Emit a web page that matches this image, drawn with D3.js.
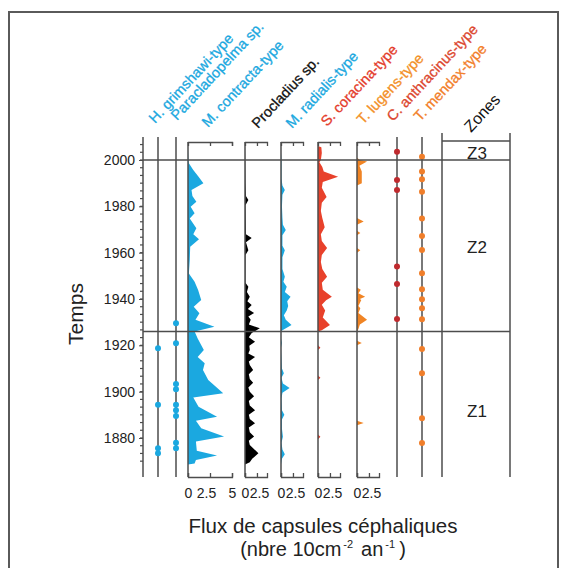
<!DOCTYPE html>
<html>
<head>
<meta charset="utf-8">
<script src="https://cdn.jsdelivr.net/npm/d3@7"></script>
<style>
body { margin: 0; background: #fff; }
svg { display: block; font-family: "Liberation Sans", Arial, sans-serif; }
</style>
</head>
<body>
<svg id="chart" width="570" height="568"></svg>
<script>
// taxa, left to right
var taxa = ["H. grimshawi-type", "Paracladopelma sp.", "M. contracta-type", "Procladius sp.",
            "M. radialis-type", "S. coracina-type", "T. lugens-type", "C. anthracinus-type", "T. mendax-type"];
var yearTicks = [1880, 1900, 1920, 1940, 1960, 1980, 2000];
var zoneBounds = [1926, 2000];
var zoneNames = ["Z1", "Z2", "Z3"];

// presence only (years)
var grimshawi = [1918.7, 1894.3, 1875.6, 1873.4];
var paracladopelma = [1929.5, 1920.9, 1903.3, 1901, 1894.3, 1892, 1889.5, 1878, 1875.6];
var anthracinus = [2003.6, 1991.4, 1987, 1954, 1946.5, 1931.4];
var mendax = [2001.4, 1995, 1991.7, 1986.3, 1974.8, 1967.2, 1961.2, 1951.1, 1944.2, 1939.9, 1936, 1931.3, 1918.4, 1908, 1888.5, 1877.8];

// flux profiles [year, value]
var contracta = [[2004, 0], [2000, 0.05], [1998.6, 0.1], [1995.7, 0.6], [1992.8, 1.2], [1990, 1.75], [1987, 0.4],
  [1984.5, 0.5], [1982, 0.95], [1979.8, 0.3], [1977, 0.75], [1974.8, 0.2], [1970.5, 0.95], [1968, 0.6],
  [1965.8, 1.25], [1962.6, 0.25], [1956.8, 0.2], [1951, 0.1], [1947.5, 0.75], [1943.9, 1.15], [1939.6, 1.5],
  [1936.7, 0.65], [1933.8, 1.3], [1931, 0.85], [1928, 3.0], [1926, 0.75], [1923, 1.1], [1918, 1.8],
  [1915, 1.1], [1912.3, 1.9], [1909.4, 1.7], [1905, 2.3], [1899.3, 4.0], [1897.5, 0.6], [1893.5, 1.2],
  [1889.2, 3.3], [1887.5, 0.9], [1884.2, 1.5], [1880.6, 4.1], [1878.5, 0.9], [1874.5, 1.0], [1872.5, 3.3],
  [1870.5, 0.9], [1869, 0.75], [1868.6, 0]];
var procladius = [[2006, 0], [1990, 0.1], [1984.5, 0.2], [1982.7, 0.7], [1980.5, 0.1], [1968, 0.2], [1966.3, 1.4],
  [1964.5, 0.2], [1961, 0.7], [1959, 0.1], [1947, 0.1], [1945.3, 0.7], [1943, 0.4], [1941, 1.0], [1939, 0.5],
  [1937.4, 1.4], [1935.7, 0.6], [1934, 1.9], [1932.4, 0.7], [1931, 1.2], [1929, 0.8], [1927.4, 3.1],
  [1925.3, 1.4], [1923.5, 0.8], [1921.6, 2.1], [1919.8, 0.9], [1918, 1.0], [1916.5, 0.7], [1915, 2.1],
  [1913, 0.8], [1911.5, 1.0], [1909.4, 1.7], [1907.5, 0.8], [1905.5, 1.0], [1903.8, 1.7], [1901.8, 0.7],
  [1900, 1.0], [1898, 1.9], [1896, 0.8], [1894, 1.0], [1892, 2.1], [1890, 0.8], [1888.2, 1.0], [1886.4, 2.1],
  [1884.5, 0.8], [1882.5, 1.0], [1880.6, 1.9], [1878.8, 0.8], [1877, 1.0], [1873.4, 2.8], [1871, 1.5],
  [1869.5, 1.0], [1868.6, 0]];
var radialis = [[2003, 0], [2000, 0.1], [1992, 0.1], [1989, 0.3], [1987, 0.8], [1985, 0.3], [1980, 0.2],
  [1975, 0.3], [1972, 0.4], [1969.8, 1.0], [1967.5, 0.3], [1963, 0.3], [1961, 0.8], [1958, 0.3], [1953, 0.3],
  [1949.6, 0.8], [1947.5, 0.5], [1945.3, 1.2], [1943, 0.8], [1941, 2.0], [1939, 1.3], [1937, 1.5],
  [1935, 1.2], [1933, 0.6], [1931, 1.0], [1928.8, 2.2], [1926.5, 0.3], [1926, 0], [1923, 0], [1921, 0.2],
  [1919, 0], [1910, 0.2], [1908, 0.6], [1906, 0.1], [1903.5, 0.4], [1901.6, 1.8], [1899.5, 0.3], [1897, 0.1],
  [1892, 0.2], [1890, 0.7], [1888, 0.2], [1884, 0.2], [1880.5, 0.4], [1878, 0.1], [1875, 0.3], [1873, 0.8],
  [1871, 0.2], [1868.6, 0]];
var coracina = [[2006, 0], [2005.5, 0.7], [2003, 0.8], [2000, 0.6], [1999, 0.3], [1997, 0.9], [1995, 1.2],
  [1992.8, 4.2], [1990.5, 1.0], [1988, 0.8], [1984, 1.8], [1981.5, 0.8], [1978, 0.6], [1975, 0.9],
  [1971, 1.4], [1968, 0.6], [1965, 0.8], [1962, 1.9], [1959, 0.8], [1956, 0.6], [1953, 0.9], [1949.6, 1.9],
  [1947, 0.8], [1944, 1.0], [1941, 2.9], [1939.5, 1.7], [1937.5, 0.8], [1935, 1.5], [1932, 1.0],
  [1928.8, 2.5], [1926.5, 0.8], [1926, 0], [1920, 0], [1919, 0.5], [1918, 0], [1907, 0], [1906, 0.5],
  [1905, 0], [1881.5, 0], [1880.5, 0.5], [1879.5, 0]];
var lugens = [[2001, 0], [2000, 0.6], [1999.3, 2.1], [1997.5, 0.5], [1995, 1.0], [1990, 1.0], [1989, 0],
  [1975, 0], [1973.4, 1.4], [1972, 0], [1969.5, 0], [1968.5, 0.7], [1967.5, 0], [1962, 0], [1961, 0.7],
  [1960, 0], [1945, 0], [1944, 0.8], [1942.5, 0.3], [1941, 1.7], [1940, 0.6], [1939.6, 0.9], [1937, 0.3],
  [1936, 0.7], [1934, 0.3], [1931, 2.1], [1929, 0.6], [1927, 0.3], [1926, 0], [1922, 0], [1921, 1.0],
  [1920, 0], [1887.5, 0], [1886.5, 1.4], [1885.5, 0]];

var cyan = "#1ba8e0";
var labelColors = [cyan, cyan, cyan, "#111", cyan, "#e43d2c", "#f39028", "#dc472f", "#f2802b"];

// layout
var colX = [158, 176, 188, 245, 281, 318, 357, 397, 422];
var labelX = [155, 177, 208, 258, 292, 327, 363, 393, 420];
var labelY = [124, 121, 128, 129, 129, 127, 125, 122, 122];
var zoneLeft = 442, zoneRight = 510;
var axisX = 143, topY = 137, axisTopY = 142, bottomY = 477;
var lineColor = "#4d4d4d";

var svg = d3.select("#chart");

svg.append("rect")
  .attr("x", 9).attr("y", 12).attr("width", 549).attr("height", 570)
  .attr("fill", "none").attr("stroke", "#5a5a5a").attr("stroke-width", 2);

var y = d3.scaleLinear().domain([1880, 2000]).range([438, 160]);

// y axis
var yAxis = svg.append("g").attr("transform", "translate(" + axisX + ",0)")
  .call(d3.axisLeft(y).tickValues(yearTicks).tickSize(4).tickPadding(4).tickFormat(d3.format("d")));
yAxis.select(".domain").remove();
yAxis.selectAll("text").attr("font-size", 14).attr("fill", "#222")
  .attr("font-family", "Liberation Sans, Arial, sans-serif");
yAxis.selectAll("line").attr("stroke", lineColor);
var minorYears = d3.range(-3, 40).map(function (k) { return 2000 - k * 20 / 6; })
  .filter(function (v) { return y(v) > topY && y(v) < bottomY; });
svg.append("g").selectAll("line").data(minorYears).enter().append("line")
  .attr("x1", axisX - 3).attr("x2", axisX).attr("y1", function (d) { return y(d); })
  .attr("y2", function (d) { return y(d); }).attr("stroke", lineColor).attr("stroke-width", 1.2);
svg.append("line").attr("x1", axisX).attr("x2", axisX).attr("y1", topY).attr("y2", bottomY)
  .attr("stroke", lineColor).attr("stroke-width", 1.5);

svg.append("text").text("Temps")
  .attr("transform", "translate(83,314) rotate(-90)")
  .attr("text-anchor", "middle").attr("font-size", 21).attr("fill", "#222");

// profile columns
var profiles = [
  { col: 2, data: contracta, max: 5, width: 44, ticks: [2.5, 5], fill: cyan, dx: -4 },
  { col: 3, data: procladius, max: 4.6, width: 22, ticks: [2.5], fill: "#000", dx: 2 },
  { col: 4, data: radialis, max: 4.6, width: 22, ticks: [2.5], fill: cyan, dx: 2 },
  { col: 5, data: coracina, max: 4.6, width: 22, ticks: [2.5], fill: "#e8412b", dx: 2 },
  { col: 6, data: lugens, max: 4.6, width: 22, ticks: [2.5], fill: "#f08424", dx: 2 }
];

profiles.forEach(function (p) {
  var x0 = colX[p.col];
  var x = d3.scaleLinear().domain([0, p.max]).range([x0, x0 + p.width]);
  var area = d3.area().y(function (d) { return y(d[0]); })
    .x0(x(0)).x1(function (d) { return x(d[1]); });
  svg.append("path").datum(p.data).attr("d", area).attr("fill", p.fill);

  var top = svg.append("g").attr("transform", "translate(0," + axisTopY + ")")
    .call(d3.axisTop(x).tickValues(p.ticks).tickSize(-4).tickSizeOuter(-4).tickFormat(""));
  top.selectAll("path,line").attr("stroke", lineColor).attr("stroke-width", 1.3);

  var bot = svg.append("g").attr("transform", "translate(0," + bottomY + ")")
    .call(d3.axisBottom(x).tickValues([0].concat(p.ticks)).tickSize(-4).tickSizeOuter(-4).tickPadding(11)
      .tickFormat(function (d) { return d === 2.5 ? "2.5" : d3.format("d")(d); }));
  bot.selectAll("path,line").attr("stroke", lineColor).attr("stroke-width", 1.3);
  bot.selectAll("text").attr("font-size", 14).attr("fill", "#222")
    .attr("font-family", "Liberation Sans, Arial, sans-serif")
    .attr("dx", function (d) { return d === 2.5 ? p.dx : 0; });
});

// vertical column lines
colX.forEach(function (cx, i) {
  var isProfile = i >= 2 && i <= 6;
  svg.append("line").attr("x1", cx).attr("x2", cx)
    .attr("y1", isProfile ? axisTopY : topY).attr("y2", bottomY)
    .attr("stroke", lineColor).attr("stroke-width", 1.5);
});
[zoneLeft, zoneRight].forEach(function (zx) {
  svg.append("line").attr("x1", zx).attr("x2", zx).attr("y1", 133).attr("y2", bottomY)
    .attr("stroke", lineColor).attr("stroke-width", 1.5);
});

// presence dots
var dotSets = [
  { col: 0, data: grimshawi, fill: cyan },
  { col: 1, data: paracladopelma, fill: cyan },
  { col: 7, data: anthracinus, fill: "#bf2a2e" },
  { col: 8, data: mendax, fill: "#f07e2a" }
];
dotSets.forEach(function (s) {
  svg.append("g").selectAll("circle").data(s.data).enter().append("circle")
    .attr("cx", colX[s.col]).attr("cy", function (d) { return y(d); })
    .attr("r", 3).attr("fill", s.fill);
});

// zone boundaries
zoneBounds.forEach(function (b) {
  svg.append("line").attr("x1", axisX).attr("x2", zoneRight)
    .attr("y1", y(b)).attr("y2", y(b)).attr("stroke", lineColor).attr("stroke-width", 1.4);
});
svg.append("line").attr("x1", zoneLeft).attr("x2", zoneRight).attr("y1", 141).attr("y2", 141)
  .attr("stroke", lineColor).attr("stroke-width", 1.5);

var zoneLabelY = [417, (y(2000) + y(1926)) / 2 + 7, y(2000) - 1];
zoneNames.forEach(function (z, i) {
  svg.append("text").text(z).attr("x", (zoneLeft + zoneRight) / 2 + 1).attr("y", zoneLabelY[i])
    .attr("text-anchor", "middle").attr("font-size", 17).attr("fill", "#222");
});

// taxon headers
taxa.forEach(function (t, i) {
  svg.append("text").text(t)
    .attr("transform", "translate(" + labelX[i] + "," + labelY[i] + ") rotate(-47)")
    .attr("font-size", 14.5).attr("fill", labelColors[i])
    .attr("stroke", labelColors[i]).attr("stroke-width", 0.3);
});
svg.append("text").text("Zones")
  .attr("transform", "translate(471,133) rotate(-47)")
  .attr("font-size", 16).attr("fill", "#111");

// x title
svg.append("text").text("Flux de capsules céphaliques")
  .attr("x", 323).attr("y", 533).attr("text-anchor", "middle")
  .attr("font-size", 20.5).attr("fill", "#222");
var t2 = svg.append("text").attr("x", 323).attr("y", 556).attr("text-anchor", "middle")
  .attr("font-size", 20).attr("fill", "#222");
t2.append("tspan").text("(nbre 10cm");
t2.append("tspan").text("-2").attr("font-size", 11).attr("dy", -8).attr("dx", 2);
t2.append("tspan").text("an").attr("dy", 8).attr("dx", 8);
t2.append("tspan").text("-1").attr("font-size", 11).attr("dy", -8).attr("dx", 2);
t2.append("tspan").text(")").attr("dy", 8).attr("dx", 4);
</script>
</body>
</html>
